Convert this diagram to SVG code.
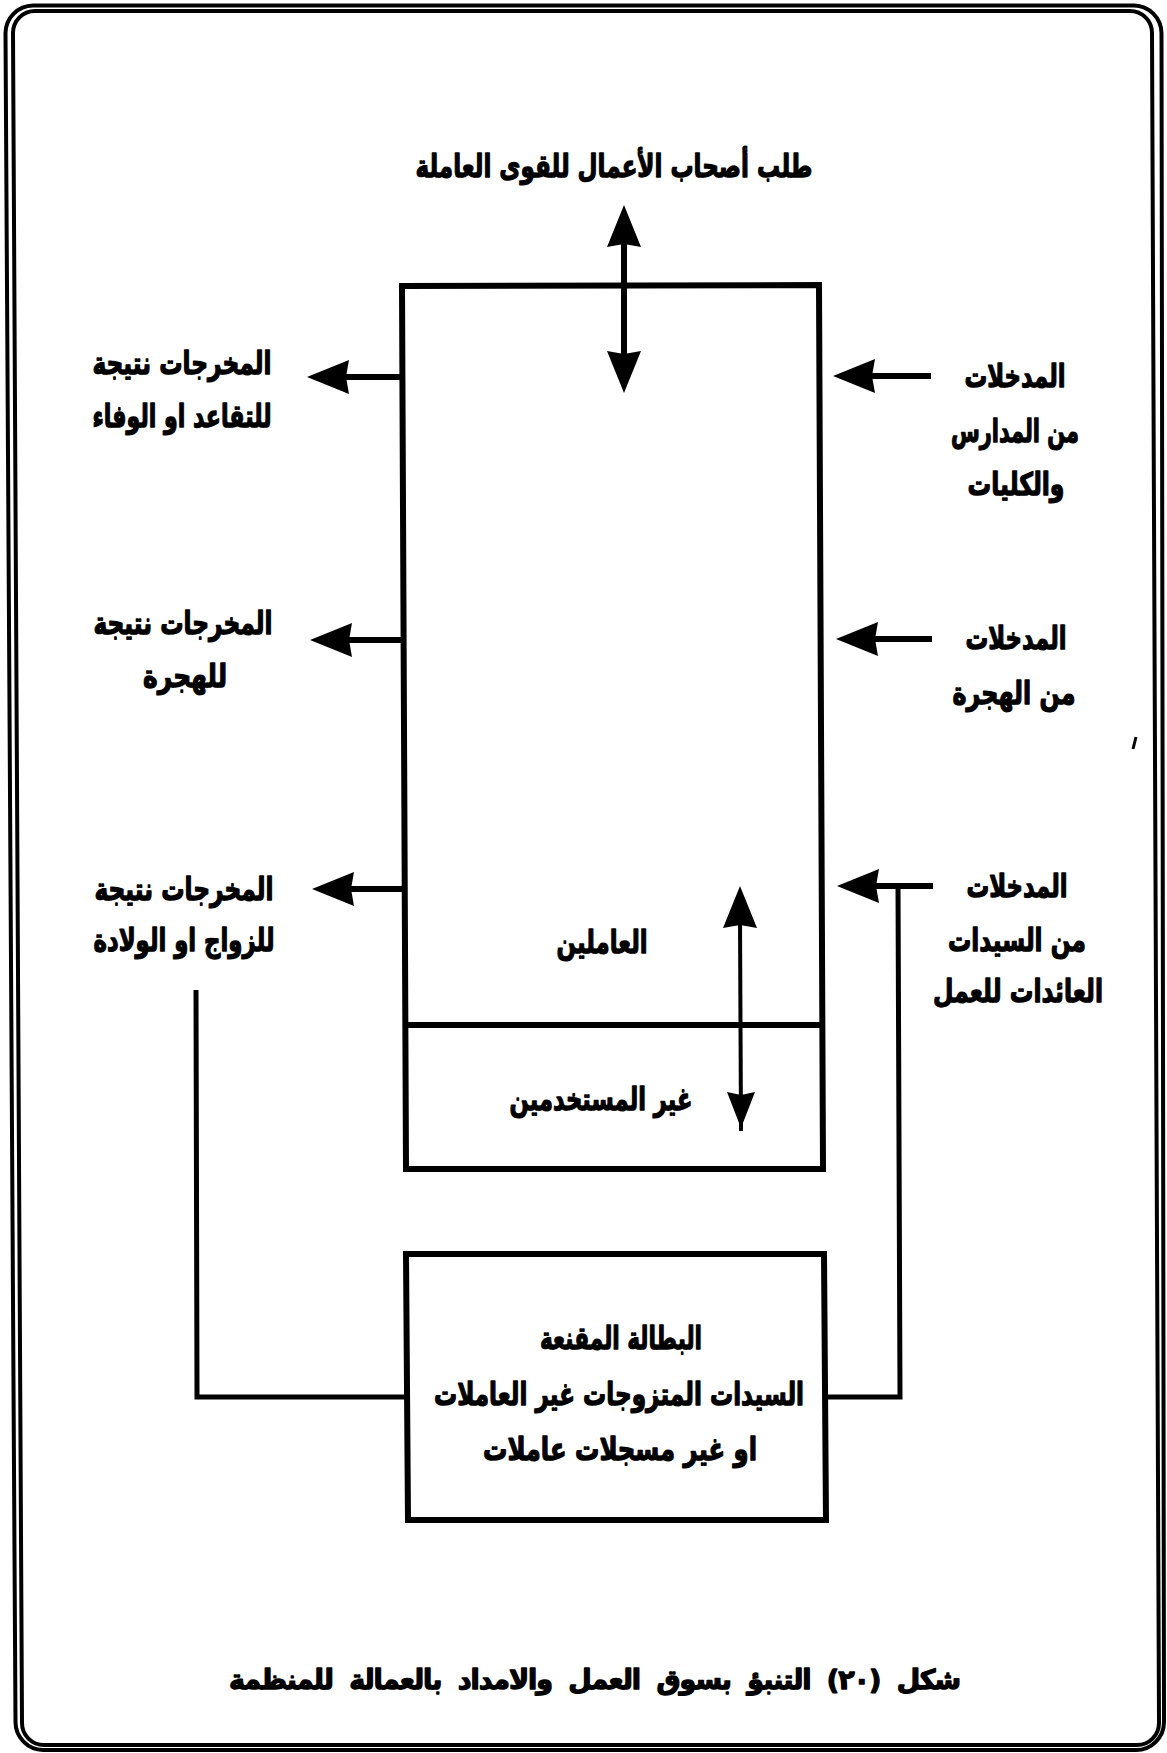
<svg xmlns="http://www.w3.org/2000/svg" xmlns:xlink="http://www.w3.org/1999/xlink" width="1167" height="1753" viewBox="0 0 1167 1753">
<style>
.t{font-family:"DejaVu Sans",sans-serif;font-weight:bold;font-size:31px;fill:#000;stroke:#000;stroke-width:1.3;stroke-linejoin:round;text-anchor:middle;direction:rtl;unicode-bidi:embed}
.cap{font-size:27px;word-spacing:8px}
.box{fill:none;stroke:#000;stroke-width:6;stroke-linejoin:miter}
.frame{fill:none;stroke:#000;stroke-width:4}
.sh{fill:none;stroke:#000;stroke-width:6}
.fb{fill:none;stroke:#000;stroke-width:5}
.thin{fill:none;stroke:#000;stroke-width:4}
</style>
<defs>
<path id="ah" d="M0,0 L-42,-17 L-39,0 L-42,17 Z" fill="#000"/>
<path id="ahs" d="M0,0 L-36,-14 L-33,0 L-36,14 Z" fill="#000"/>
</defs>
<rect width="1167" height="1753" fill="#fff"/>
<g id="frame">
<path class="frame" d="M5.5,33 A28,28 0 0 1 33,5.5 L1134,5.5 A28,28 0 0 1 1161.5,33 L1164,1722 A28,28 0 0 1 1136,1750 L43,1750 A28,28 0 0 1 15.5,1722 Z"/>
<path class="frame" d="M13,33 A22,22 0 0 1 35,11 L1130,11 A22,22 0 0 1 1152,33 L1159,1723 A22,22 0 0 1 1137,1745 L44,1745 A22,22 0 0 1 22,1723 Z"/>
<path d="M1136,737 L1133,749" stroke="#000" stroke-width="3" fill="none"/>
</g>
<g id="connectors">
<line class="sh" x1="624" y1="238" x2="624" y2="360"/>
<use xlink:href="#ah" transform="translate(624,205) rotate(-90)"/>
<use xlink:href="#ah" transform="translate(624,393) rotate(90)"/>
<line class="sh" x1="345" y1="377" x2="402" y2="377"/>
<use xlink:href="#ah" transform="translate(307,377) rotate(180)"/>
<line class="sh" x1="348" y1="640" x2="403" y2="640"/>
<use xlink:href="#ah" transform="translate(310,640) rotate(180)"/>
<line class="sh" x1="350" y1="889" x2="405" y2="889"/>
<use xlink:href="#ah" transform="translate(312,889) rotate(180)"/>
<line class="sh" x1="870" y1="376" x2="931" y2="376"/>
<use xlink:href="#ah" transform="translate(833,376) rotate(180)"/>
<line class="sh" x1="873" y1="639" x2="932" y2="639"/>
<use xlink:href="#ah" transform="translate(836,639) rotate(180)"/>
<line class="sh" x1="874" y1="886" x2="933" y2="886"/>
<use xlink:href="#ah" transform="translate(837,886) rotate(180)"/>
<line class="thin" x1="740" y1="920" x2="741" y2="1131"/>
<use xlink:href="#ah" transform="translate(740,886) rotate(-90)"/>
<use xlink:href="#ahs" transform="translate(741,1128) rotate(90)"/>
<polyline class="fb" points="196,990 197,1397 407,1397"/>
<polyline class="fb" points="825,1397 900,1397 898,886"/>
</g>
<g id="demand">
<text class="t" x="614" y="177" textLength="397" lengthAdjust="spacingAndGlyphs">طلب أصحاب الأعمال للقوى العاملة</text>
</g>
<g id="workforce">
<path class="box" d="M402,286 L819,285 L823,1169 L406,1169 Z"/>
<line class="box" x1="404" y1="1025" x2="821" y2="1025"/>
<text class="t" x="602" y="953" textLength="91" lengthAdjust="spacingAndGlyphs">العاملين</text>
<text class="t" x="601" y="1110" textLength="183" lengthAdjust="spacingAndGlyphs">غير المستخدمين</text>
</g>
<g id="out-retire">
<text class="t" x="182" y="374" textLength="179" lengthAdjust="spacingAndGlyphs">المخرجات نتيجة</text>
<text class="t" x="182" y="427" textLength="179" lengthAdjust="spacingAndGlyphs">للتقاعد او الوفاء</text>
</g>
<g id="out-migration">
<text class="t" x="183" y="634" textLength="179" lengthAdjust="spacingAndGlyphs">المخرجات نتيجة</text>
<text class="t" x="185" y="687" textLength="84" lengthAdjust="spacingAndGlyphs">للهجرة</text>
</g>
<g id="out-marriage">
<text class="t" x="184" y="900" textLength="179" lengthAdjust="spacingAndGlyphs">المخرجات نتيجة</text>
<text class="t" x="184" y="951" textLength="181" lengthAdjust="spacingAndGlyphs">للزواج او الولادة</text>
</g>
<g id="in-schools">
<text class="t" x="1015" y="387" textLength="101" lengthAdjust="spacingAndGlyphs">المدخلات</text>
<text class="t" x="1015" y="442" textLength="128" lengthAdjust="spacingAndGlyphs">من المدارس</text>
<text class="t" x="1016" y="495" textLength="97" lengthAdjust="spacingAndGlyphs">والكليات</text>
</g>
<g id="in-migration">
<text class="t" x="1016" y="649" textLength="101" lengthAdjust="spacingAndGlyphs">المدخلات</text>
<text class="t" x="1014" y="704" textLength="123" lengthAdjust="spacingAndGlyphs">من الهجرة</text>
</g>
<g id="in-women">
<text class="t" x="1017" y="897" textLength="101" lengthAdjust="spacingAndGlyphs">المدخلات</text>
<text class="t" x="1017" y="951" textLength="138" lengthAdjust="spacingAndGlyphs">من السيدات</text>
<text class="t" x="1018" y="1002" textLength="170" lengthAdjust="spacingAndGlyphs">العائدات للعمل</text>
</g>
<g id="hidden">
<path class="box" d="M406,1254 L824,1254 L826,1520 L408,1520 Z"/>
<text class="t" x="621" y="1349" textLength="162" lengthAdjust="spacingAndGlyphs">البطالة المقنعة</text>
<text class="t" x="619" y="1405" textLength="370" lengthAdjust="spacingAndGlyphs">السيدات المتزوجات غير العاملات</text>
<text class="t" x="620" y="1460" textLength="274" lengthAdjust="spacingAndGlyphs">او غير مسجلات عاملات</text>
</g>
<g id="caption">
<text class="t cap" x="595" y="1689" textLength="732" lengthAdjust="spacing">شكل (٢٠) التنبؤ بسوق العمل والامداد بالعمالة للمنظمة</text>
</g>
</svg>
